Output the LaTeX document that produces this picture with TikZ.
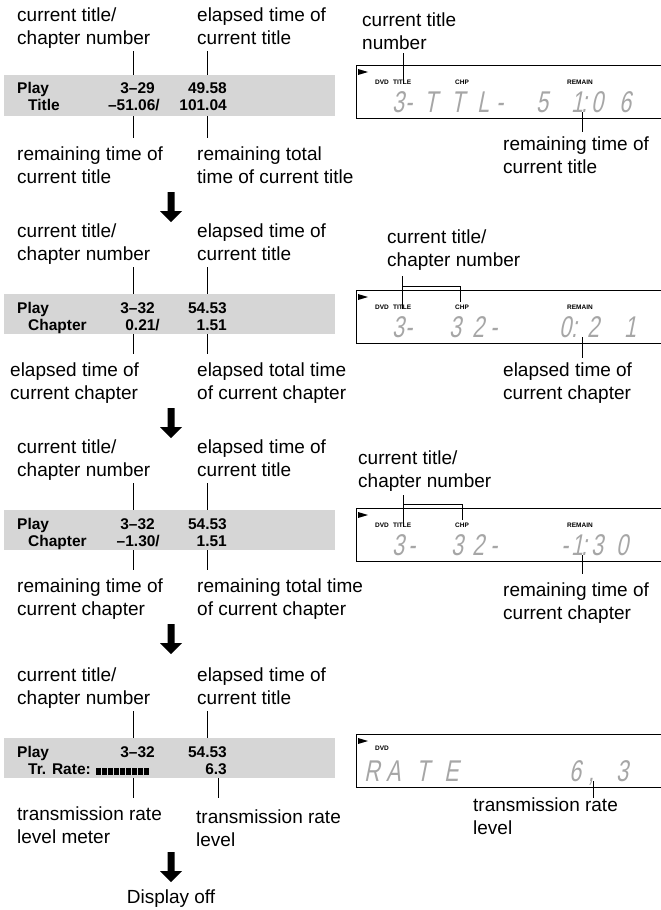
\documentclass[tikz,border=0pt]{standalone}
\usepackage{fontspec}
\setmainfont{Liberation Sans}
\newfontfamily\lcdfont[FakeStretch=0.72,FakeSlant=0.2]{Liberation Sans}
\newcommand\twolbl[5]{%
  \node[lbl] (#1a) at (#2,#3) {#4};
  \node[lbl] (#1b) at (#2,#3+23) {#5};}
\newcommand\leaderline[4]{%
  \coordinate (#1a) at (#2,#3); \coordinate (#1b) at (#2,#4);
  \draw[leader] (#1a) -- (#1b);}
\newcommand\flowarrow[2]{% name, top y
  \coordinate (#1) at (171,#2);
  \fill[flow] ([xshift=-3.5pt]#1) -- ([xshift=3.5pt]#1) -- ([xshift=3.5pt,yshift=-19pt]#1)
    -- ([xshift=11pt,yshift=-19pt]#1) -- ([yshift=-30pt]#1) -- ([xshift=-11pt,yshift=-19pt]#1)
    -- ([xshift=-3.5pt,yshift=-19pt]#1) -- cycle;}
\newcommand\lcdframe[2]{% name, top y
  \coordinate (#1tr) at (662,#2); \coordinate (#1tl) at (356,#2);
  \coordinate (#1bl) at (356,#2+53); \coordinate (#1br) at (662,#2+53);
  \draw[frame] (#1tr) -- (#1tl) -- (#1bl) -- (#1br);
  \fill (358,#2+4) -- (368,#2+7) -- (358,#2+10) -- cycle;}
\begin{document}
\begin{tikzpicture}[x=1pt,y=-1pt,
  lbl/.style={font=\fontsize{19}{23}\selectfont, inner sep=0pt, anchor=base west},
  boxw/.style={font=\fontsize{15.5}{18}\selectfont\bfseries, inner sep=0pt, anchor=base west},
  boxe/.style={font=\fontsize{15.5}{18}\selectfont\bfseries, inner sep=0pt, anchor=base east},
  lcd/.style={font={\lcdfont\fontsize{30}{30}\selectfont}, text=black!35, inner sep=0pt, anchor=base west},
  tag/.style={font=\fontsize{6.5}{7}\selectfont\bfseries, inner sep=0pt, anchor=base west},
  leader/.style={line width=1pt},
  frame/.style={line width=1pt},
  screen/.style={fill=gray!32, draw=none},
  flow/.style={fill=black}]
\useasboundingbox (0,0) rectangle (661,910);

% ---------------- Panel 1 ----------------
\twolbl{p1ul}{17}{21}{current title/}{chapter number}
\twolbl{p1ur}{197}{21}{elapsed time of}{current title}
\leaderline{p1l1}{133}{51}{75}
\leaderline{p1l2}{207}{51}{75}
\fill[screen] (4,75) rectangle (335,116);
\node[boxw] (p1a) at (17,93) {Play};
\node[boxw] (p1b) at (28,110) {Title};
\node[boxe] (p1c) at (155,93) {3--29};
\node[boxe] (p1d) at (160,110) {--51.06/};
\node[boxe] (p1e) at (227,93) {49.58};
\node[boxe] (p1f) at (227,110) {101.04};
\leaderline{p1l3}{133}{116}{138}
\leaderline{p1l4}{207}{116}{138}
\twolbl{p1ll}{17}{160}{remaining time of}{current title}
\twolbl{p1lr}{197}{160}{remaining total}{time of current title}
\flowarrow{ar1}{192}
% LCD 1
\lcdframe{f1}{65}
\node[tag] (t1a) at (375,84) {DVD};
\node[tag] (t1b) at (393,84) {TITLE};
\node[tag] (t1c) at (455,84) {CHP};
\node[tag] (t1d) at (567,84) {REMAIN};
\foreach \x/\c [count=\i] in {392/3,405/-,424/T,451/T,477/L,496/-,536/5,571/1,581/:,591/0,619/6}
  \node[lcd] (k1\i) at (\x,112) {\c};
\twolbl{r1u}{362}{26}{current title}{number}
\leaderline{r1l1}{403}{53}{84}
\leaderline{r1l2}{582}{112}{132}
\twolbl{r1d}{503}{150}{remaining time of}{current title}

% ---------------- Panel 2 ----------------
\twolbl{p2ul}{17}{237}{current title/}{chapter number}
\twolbl{p2ur}{197}{237}{elapsed time of}{current title}
\leaderline{p2l1}{133}{267}{294}
\leaderline{p2l2}{207}{267}{294}
\fill[screen] (4,294) rectangle (335,334);
\node[boxw] (p2a) at (17,313) {Play};
\node[boxw] (p2b) at (28,330) {Chapter};
\node[boxe] (p2c) at (155,313) {3--32};
\node[boxe] (p2d) at (160,330) {0.21/};
\node[boxe] (p2e) at (227,313) {54.53};
\node[boxe] (p2f) at (227,330) {1.51};
\leaderline{p2l3}{133}{334}{354}
\leaderline{p2l4}{207}{334}{354}
\twolbl{p2ll}{10}{376}{elapsed time of}{current chapter}
\twolbl{p2lr}{197}{376}{elapsed total time}{of current chapter}
\flowarrow{ar2}{408}
% LCD 2
\lcdframe{f2}{290}
\node[tag] (t2a) at (375,309) {DVD};
\node[tag] (t2b) at (393,309) {TITLE};
\node[tag] (t2c) at (455,309) {CHP};
\node[tag] (t2d) at (567,309) {REMAIN};
\foreach \x/\c [count=\i] in {392/3,405/-,449/3,472/2,490/-,559/0,571/:,587/2,624/1}
  \node[lcd] (k2\i) at (\x,337) {\c};
\twolbl{r2u}{387}{243}{current title/}{chapter number}
\coordinate (b2a) at (402,276); \coordinate (b2b) at (402,309);
\coordinate (b2c) at (402,286); \coordinate (b2d) at (460,286); \coordinate (b2e) at (460,302);
\draw[leader] (b2a) -- (b2b);
\draw[leader] (b2c) -- (b2d) -- (b2e);
\leaderline{r2l2}{582}{337}{358}
\twolbl{r2d}{503}{376}{elapsed time of}{current chapter}

% ---------------- Panel 3 ----------------
\twolbl{p3ul}{17}{453}{current title/}{chapter number}
\twolbl{p3ur}{197}{453}{elapsed time of}{current title}
\leaderline{p3l1}{133}{483}{510}
\leaderline{p3l2}{207}{483}{510}
\fill[screen] (4,510) rectangle (335,550);
\node[boxw] (p3a) at (17,529) {Play};
\node[boxw] (p3b) at (28,546) {Chapter};
\node[boxe] (p3c) at (155,529) {3--32};
\node[boxe] (p3d) at (160,546) {--1.30/};
\node[boxe] (p3e) at (227,529) {54.53};
\node[boxe] (p3f) at (227,546) {1.51};
\leaderline{p3l3}{133}{550}{570}
\leaderline{p3l4}{207}{550}{570}
\twolbl{p3ll}{17}{592}{remaining time of}{current chapter}
\twolbl{p3lr}{197}{592}{remaining total time}{of current chapter}
\flowarrow{ar3}{624}
% LCD 3
\lcdframe{f3}{508}
\node[tag] (t3a) at (375,527) {DVD};
\node[tag] (t3b) at (393,527) {TITLE};
\node[tag] (t3c) at (455,527) {CHP};
\node[tag] (t3d) at (567,527) {REMAIN};
\foreach \x/\c [count=\i] in {392/3,408/-,451/3,472/2,490/-,561/-,571/1,581/:,591/3,616/0}
  \node[lcd] (k3\i) at (\x,555) {\c};
\twolbl{r3u}{358}{464}{current title/}{chapter number}
\coordinate (b3a) at (403,495); \coordinate (b3b) at (403,527);
\coordinate (b3c) at (403,504); \coordinate (b3d) at (462,504); \coordinate (b3e) at (462,520);
\draw[leader] (b3a) -- (b3b);
\draw[leader] (b3c) -- (b3d) -- (b3e);
\leaderline{r3l2}{582}{555}{574}
\twolbl{r3d}{503}{596}{remaining time of}{current chapter}

% ---------------- Panel 4 ----------------
\twolbl{p4ul}{17}{681}{current title/}{chapter number}
\twolbl{p4ur}{197}{681}{elapsed time of}{current title}
\leaderline{p4l1}{133}{711}{738}
\leaderline{p4l2}{207}{711}{738}
\fill[screen] (4,738) rectangle (335,778);
\node[boxw] (p4a) at (17,757) {Play};
\node[boxw] (p4b) at (28,774) {Tr. Rate:};
\foreach \i in {0,...,8}
  \fill ({96+6*\i},767.5) rectangle ++(4.6,7);
\node[boxe] (p4c) at (155,757) {3--32};
\node[boxe] (p4e) at (227,757) {54.53};
\node[boxe] (p4f) at (227,774) {6.3};
\leaderline{p4l3}{133}{778}{798}
\leaderline{p4l4}{218}{778}{798}
\twolbl{p4ll}{17}{820}{transmission rate}{level meter}
\twolbl{p4lr}{196}{823}{transmission rate}{level}
\flowarrow{ar4}{852}
\node[lbl, anchor=base] (off) at (171,903) {Display off};
% LCD 4
\lcdframe{f4}{734}
\node[tag] (t4a) at (375,750) {DVD};
\foreach \x/\c [count=\i] in {364/R,386/A,416/T,444/E,569/6,588/{,},616/3}
  \node[lcd] (k4\i) at (\x,781) {\c};
\leaderline{r4l2}{593}{781}{798}
\twolbl{r4d}{473}{811}{transmission rate}{level}
\end{tikzpicture}
\end{document}
